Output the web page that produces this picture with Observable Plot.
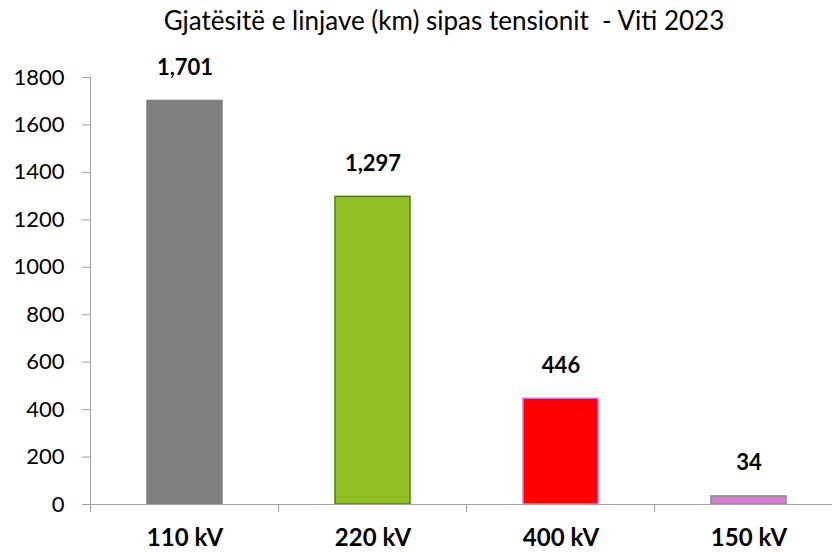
<!DOCTYPE html>
<html>
<head>
<meta charset="utf-8">
<script src="https://cdn.jsdelivr.net/npm/d3@7"></script>
<script src="https://cdn.jsdelivr.net/npm/@observablehq/plot@0.6"></script>
<style>
  html, body { margin: 0; padding: 0; background: #fff; overflow: hidden; }
  #wrap { position: relative; width: 832px; height: 552px; }
  #title { position: absolute; z-index: 2; top: 4px; left: 28px; width: 832px; text-align: center;
           font-family: Lato, "Open Sans", sans-serif; font-size: 26px; color: #000; }
</style>
</head>
<body>
<div id="wrap">
  <div id="title">Gjatësitë e linjave (km) sipas tensionit&nbsp; - Viti 2023</div>
</div>
<script>
const categories = ["110 kV", "220 kV", "400 kV", "150 kV"];
const values = [1701, 1297, 446, 34];
const fills = ["#808080", "#92c023", "#ff0000", "#da7ed2"];
const strokes = ["#808080", "#4f8012", "#e07ad8", "#8c8c8c"];
const yTicks = [0, 200, 400, 600, 800, 1000, 1200, 1400, 1600, 1800];

const data = categories.map((c, i) => ({cat: c, value: values[i], fill: fills[i], stroke: strokes[i]}));
const fmt = d3.format(",");

const chart = Plot.plot({
  width: 832,
  height: 552,
  marginTop: 77,
  marginBottom: 48,
  marginLeft: 90,
  marginRight: -12,
  style: {fontFamily: "Lato, 'Open Sans', sans-serif", background: "#fff", overflow: "visible"},
  x: {domain: categories, paddingInner: 0.6, paddingOuter: 0.3, label: null},
  y: {domain: [0, 1800], label: null},
  marks: [
    Plot.barY(data, {x: "cat", y: "value", fill: d => d.fill, stroke: d => d.stroke, strokeWidth: 1.5}),
    Plot.text(data, {x: "cat", y: "value", text: d => fmt(d.value), dy: -33, fontSize: 22, fontWeight: "bold", fill: "#000"}),
    Plot.axisY({ticks: yTicks, tickSize: 8, tickPadding: 18, fontSize: 22, stroke: "#a0a0a0", color: "#000", strokeOpacity: 1, label: null, tickFormat: d => String(d)}),
    Plot.frame({anchor: "left", stroke: "#a0a0a0"}),
    Plot.axisX({tickSize: 0, tickPadding: 24, fontSize: 24, fontWeight: "bold", label: null, color: "#000"}),
    Plot.ruleY([0], {stroke: "#a0a0a0"})
  ]
});

// band boundary ticks below the category axis, derived from the x scale
const xs = chart.scale("x");
const ys = chart.scale("y");
const gap = (xs.step - xs.bandwidth) / 2;
const bounds = categories.map(c => xs.apply(c) - gap);
bounds.push(xs.apply(categories[categories.length - 1]) + xs.bandwidth + gap);
const svg = d3.select(chart);
const y0 = ys.apply(0);
svg.append("g").selectAll("line").data(bounds).join("line")
  .attr("x1", d => d).attr("x2", d => d)
  .attr("y1", y0).attr("y2", y0 + 8)
  .attr("stroke", "#a0a0a0");

const wrap = document.getElementById("wrap");
chart.style.position = "absolute";
chart.style.left = "0";
chart.style.top = "0";
wrap.insertBefore(chart, wrap.firstChild);
</script>
</body>
</html>
